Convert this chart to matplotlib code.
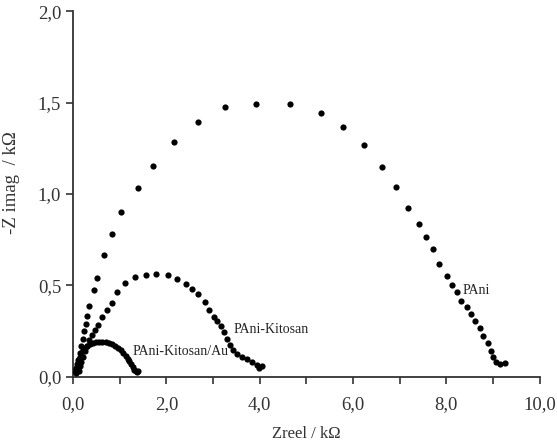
import numpy as np
import matplotlib.pyplot as plt
from matplotlib.ticker import MultipleLocator, FuncFormatter

plt.rcParams['font.family'] = ['Liberation Serif', 'DejaVu Serif']

# PAni
pani_x = [0.08, 0.10, 0.12, 0.15, 0.18, 0.21, 0.24, 0.27, 0.30, 0.34, 0.45, 0.52, 0.66, 0.83,
          1.02, 1.385, 1.713, 2.169, 2.677, 3.261, 3.925, 4.640, 5.304, 5.782, 6.225, 6.623,
          6.917, 7.188, 7.424, 7.559, 7.709, 7.852, 8.009, 8.116, 8.229, 8.323, 8.437, 8.522,
          8.623, 8.715, 8.794, 8.901, 8.951, 9.000, 9.073, 9.158, 9.257]
pani_y = [0.05, 0.07, 0.10, 0.13, 0.17, 0.21, 0.25, 0.29, 0.335, 0.39, 0.475, 0.54, 0.665, 0.78,
          0.899, 1.031, 1.154, 1.282, 1.392, 1.477, 1.493, 1.493, 1.441, 1.366, 1.268, 1.149,
          1.036, 0.923, 0.837, 0.766, 0.699, 0.618, 0.553, 0.503, 0.462, 0.416, 0.380, 0.343,
          0.306, 0.270, 0.226, 0.186, 0.142, 0.109, 0.082, 0.069, 0.075]

# PAni-Kitosan
pk_x = [0.06, 0.08, 0.10, 0.13, 0.15, 0.18, 0.21, 0.25, 0.29, 0.34, 0.40, 0.471, 0.542, 0.627,
        0.722, 0.829, 0.949, 1.113, 1.328, 1.563, 1.777, 2.028, 2.233, 2.413, 2.555, 2.677,
        2.820, 2.919, 3.013, 3.090, 3.163, 3.233, 3.291, 3.362, 3.433, 3.518, 3.612, 3.720,
        3.827, 3.934, 3.989, 4.041]
pk_y = [0.02, 0.035, 0.05, 0.03, 0.06, 0.08, 0.11, 0.14, 0.17, 0.20, 0.228, 0.255, 0.283, 0.325,
        0.365, 0.405, 0.462, 0.511, 0.547, 0.556, 0.560, 0.556, 0.534, 0.507, 0.480, 0.451,
        0.410, 0.365, 0.328, 0.306, 0.277, 0.246, 0.210, 0.173, 0.146, 0.128, 0.109, 0.097,
        0.082, 0.064, 0.051, 0.060]

# PAni-Kitosan/Au
au_x = [0.05, 0.07, 0.09, 0.11, 0.14, 0.17, 0.21, 0.25, 0.30, 0.36, 0.42, 0.49, 0.56, 0.63,
        0.70, 0.77, 0.84, 0.91, 0.97, 1.03, 1.08, 1.13, 1.17, 1.21, 1.25, 1.28, 1.31, 1.34,
        1.37, 1.40]
au_y = [0.03, 0.05, 0.07, 0.09, 0.11, 0.13, 0.145, 0.16, 0.17, 0.18, 0.187, 0.19, 0.192, 0.192,
        0.19, 0.186, 0.18, 0.17, 0.158, 0.145, 0.13, 0.115, 0.10, 0.085, 0.07, 0.055, 0.04,
        0.03, 0.028, 0.03]

labels = ['PAni', 'PAni-Kitosan', 'PAni-Kitosan/Au']
label_pos = [(8.34, 0.474), (3.43, 0.26), (1.28, 0.137)]

fig = plt.figure(figsize=(5.57, 4.45), dpi=100)
ax = fig.add_axes([0.131, 0.153, 0.838, 0.822])

for xs, ys in [(pani_x, pani_y), (pk_x, pk_y), (au_x, au_y)]:
    ax.scatter(xs, ys, s=20, c='black', linewidths=0, zorder=3)

for txt, (tx, ty) in zip(labels, label_pos):
    ax.text(tx, ty, txt, fontsize=10, va='center', ha='left', color='#222222')

ax.set_xlim(0, 10)
ax.set_ylim(0, 2.0)
ax.spines['top'].set_visible(False)
ax.spines['right'].set_visible(False)
for s in ['left', 'bottom']:
    ax.spines[s].set_linewidth(1.3)
    ax.spines[s].set_color('#333333')

ax.xaxis.set_major_locator(MultipleLocator(2))
ax.xaxis.set_minor_locator(MultipleLocator(1))
ax.yaxis.set_major_locator(MultipleLocator(0.5))
fmt = FuncFormatter(lambda v, p: ('%.1f' % v).replace('.', ','))
ax.xaxis.set_major_formatter(fmt)
ax.yaxis.set_major_formatter(fmt)
ax.tick_params(which='both', direction='out', length=5, width=1.2, color='#333333',
               labelsize=13.5, labelcolor='#333333')
ax.tick_params(axis='x', pad=9)

ax.set_xlabel('Zreel / kΩ', fontsize=12, color='#333333')
ax.xaxis.set_label_coords(0.5, -0.135)
ax.set_ylabel('-Z imag  / kΩ', fontsize=13.5, color='#333333')
ax.yaxis.set_label_coords(-0.113, 0.53)

fig.savefig('out.png', dpi=100)
